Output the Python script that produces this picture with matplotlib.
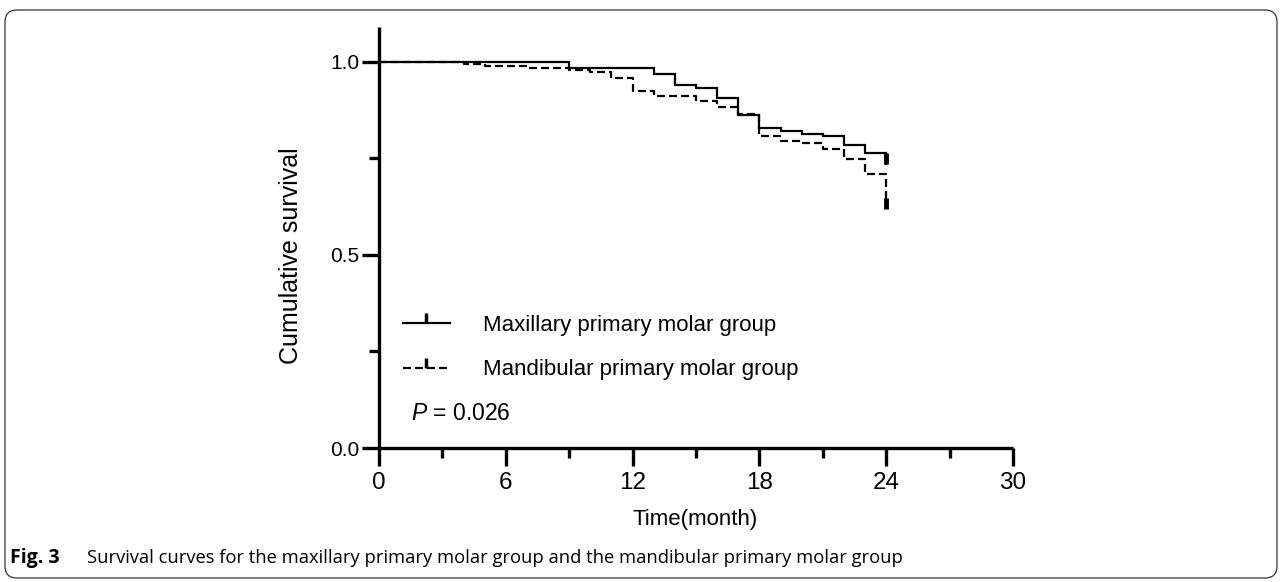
import matplotlib
matplotlib.use("Agg")
import matplotlib.pyplot as plt
from matplotlib.lines import Line2D
from matplotlib.patches import FancyBboxPatch

# ---------------- data ----------------
max_times = [0, 9, 13, 14, 15, 16, 17, 18, 19, 20, 21, 22, 23, 24]
max_surv = [1.0, 0.983, 0.969, 0.940, 0.932, 0.906, 0.862, 0.829, 0.821,
            0.813, 0.808, 0.784, 0.764, 0.735]

mand_times = [0, 4, 5, 7, 9, 10, 11, 12, 13, 15, 16, 17, 18, 19, 20, 21,
              22, 23, 24]
mand_surv = [1.0, 0.995, 0.990, 0.984, 0.979, 0.973, 0.958, 0.925, 0.912,
             0.899, 0.883, 0.865, 0.808, 0.795, 0.790, 0.774, 0.748, 0.709,
             0.618]

group_labels = ["Maxillary primary molar group", "Mandibular primary molar group"]
x_ticks = [0, 6, 12, 18, 24, 30]
x_minor = [3, 9, 15, 21, 27]
y_ticks = [0.0, 0.5, 1.0]
y_tick_labels = ["0.0", "0.5", "1.0"]
y_minor = [0.25, 0.75]
p_text = "= 0.026"
x_label = "Time(month)"
y_label = "Cumulative survival"
caption_bold = "Fig. 3"
caption = "Survival curves for the maxillary primary molar group and the mandibular primary molar group"

# ---------------- style ----------------
plt.rcParams['font.family'] = ['Liberation Sans', 'DejaVu Sans']
plt.rcParams['mathtext.fontset'] = 'custom'
plt.rcParams['mathtext.it'] = 'Liberation Sans:italic'
plt.rcParams['mathtext.rm'] = 'Liberation Sans'

W, H = 1282, 582
fig = plt.figure(figsize=(W / 100, H / 100), dpi=100)

# axes geometry (pixels)
x0, x1 = 379, 1013
yb, yt = 448, 27
ax = fig.add_axes([x0 / W, 1 - yb / H, (x1 - x0) / W, (yb - yt) / H])

lw = 1.6
ax.step(max_times, max_surv, where='post', color='black', lw=lw,
        solid_joinstyle='miter', clip_on=False)
ax.step(mand_times, mand_surv, where='post', color='black', lw=lw,
        linestyle=(0, (3.6, 1.8)), clip_on=False)
# censor ticks at the end of follow-up
ax.plot([max_times[-1]], [max_surv[-1]], marker=2, color='black',
        markersize=8, mew=3.5, linestyle='none', clip_on=False)
ax.plot([mand_times[-1]], [mand_surv[-1]], marker=2, color='black',
        markersize=8, mew=3.5, linestyle='none', clip_on=False)

ax.set_xlim(0, 30)
ax.set_ylim(0, 1.09)
for s in ['top', 'right']:
    ax.spines[s].set_visible(False)
for s in ['left', 'bottom']:
    ax.spines[s].set_linewidth(2.4)
    ax.spines[s].set_capstyle('butt')

ax.set_xticks(x_ticks)
ax.set_xticks(x_minor, minor=True)
ax.set_yticks(y_ticks)
ax.set_yticklabels(y_tick_labels)
ax.set_yticks(y_minor, minor=True)

ax.tick_params(axis='x', which='major', length=13, width=2.4, direction='out',
               pad=4, labelsize=17.5)
ax.tick_params(axis='x', which='minor', length=7, width=2.4, direction='out')
ax.tick_params(axis='y', which='major', length=12.5, width=2.4, direction='out',
               pad=1.5, labelsize=15)
ax.tick_params(axis='y', which='minor', length=7, width=2.4, direction='out')

ax.set_xlabel(x_label, fontsize=16)
ax.xaxis.set_label_coords((695 - x0) / (x1 - x0), -(520 - yb) / (yb - yt))
ax.xaxis.label.set_va('center')
ax.set_ylabel(y_label, fontsize=18)
ax.yaxis.set_label_coords(-(x0 - 291) / (x1 - x0), (yb - 256) / (yb - yt))
ax.yaxis.label.set_va('center')

handles = [
    Line2D([], [], color='black', lw=lw, marker=2, markersize=7, mew=2.5),
    Line2D([], [], color='black', lw=lw, linestyle=(0, (3.6, 1.8)),
           marker=2, markersize=7, mew=2.5),
]
leg = ax.legend(handles, group_labels, loc='upper left', frameon=False,
                bbox_to_anchor=((403 - x0) / (x1 - x0), (yb - 315) / (yb - yt)),
                borderaxespad=0, borderpad=0, fontsize=16, handlelength=2.1,
                handletextpad=1.5, labelspacing=1.05, numpoints=1)

ax.text((411 - x0) / (x1 - x0), (yb - 413) / (yb - yt), r"$P$ " + p_text,
        transform=ax.transAxes, fontsize=16.5, va='center', ha='left')

# caption
fig.text(10 / W, 1 - 558 / H, caption_bold, fontsize=14, fontweight='bold',
         family=['Open Sans', 'DejaVu Sans'], va='center', ha='left')
fig.text(87 / W, 1 - 558 / H, caption, fontsize=13.2,
         family=['Open Sans', 'DejaVu Sans'], va='center', ha='left')

# rounded frame
frame = FancyBboxPatch((5 / 100, (H - 578) / 100), (1277 - 5) / 100, (578 - 10) / 100,
                       boxstyle="round,pad=0,rounding_size=0.12",
                       transform=fig.dpi_scale_trans, facecolor='none',
                       edgecolor='#333333', lw=0.9)
fig.patches.append(frame)

fig.savefig("out.png", dpi=100)
